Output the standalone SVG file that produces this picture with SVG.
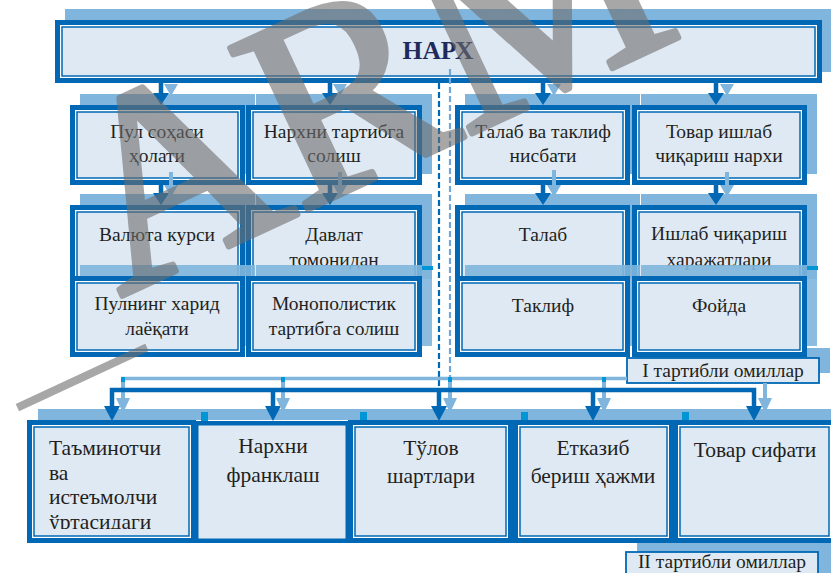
<svg xmlns="http://www.w3.org/2000/svg" width="831" height="573" viewBox="0 0 831 573">
<style>
.dk{fill:#0068b4}
.wh{fill:#ffffff}
.in{fill:#dfe9f4;stroke:#0068b4;stroke-width:1.5}
.sh{fill:#80b6dd}
.sh2{fill:#80b6dd;opacity:0.9}
.cy{fill:#0095d5}
.t{font-family:"Liberation Serif","Times New Roman",serif;font-size:19.5px;fill:#231f20;text-anchor:middle}
.tb{font-family:"Liberation Serif","Times New Roman",serif;font-size:21.5px;fill:#231f20;text-anchor:middle}
.tl{font-family:"Liberation Serif","Times New Roman",serif;font-size:21.5px;fill:#231f20}
.dkl{stroke:#0068b4;stroke-width:4.5;fill:none}
.ltl{stroke:#80b6dd;stroke-width:4;fill:none}
.dka{fill:#0068b4}
.lta{fill:#80b6dd}
</style>
<defs>
<clipPath id="c1"><rect x="34" y="427" width="155" height="102"/></clipPath>
</defs>
<rect width="831" height="573" fill="#ffffff"/>

<!-- top node -->
<g id="n-narx">
<rect class="sh" x="65" y="9" width="770" height="63"/>
<rect class="dk" x="55" y="20" width="767" height="63"/>
<rect class="wh" x="60" y="25" width="757" height="53"/>
<rect class="in" x="62" y="27" width="753" height="49"/>
<text x="438" y="59" font-family="'Liberation Serif','Times New Roman',serif" font-size="25.5" font-weight="bold" fill="#1f2a5c" text-anchor="middle">НАРХ</text>
</g>

<!-- row 2 shadows -->
<rect class="sh" x="80" y="94" width="175" height="80"/>
<rect class="sh" x="256" y="94" width="176" height="80"/>
<rect class="sh" x="465" y="94" width="175" height="80"/>
<rect class="sh" x="641" y="94" width="176" height="80"/>
<!-- row 3 shadows -->
<rect class="sh" x="80" y="194" width="175" height="85"/>
<rect class="sh" x="256" y="194" width="176" height="85"/>
<rect class="sh" x="465" y="194" width="175" height="85"/>
<rect class="sh" x="641" y="194" width="176" height="85"/>

<g id="connectors">
<path class="dkl" d="M161 83V95M330 83V95M543 83V95M716 83V95"/>
<path class="dka" d="M153 93H169L161 105ZM322 93H338L330 105ZM535 93H551L543 105ZM708 93H724L716 105Z"/>
<path class="lta" d="M164 84H178L171 96ZM333 84H347L340 96ZM547 84H561L554 96ZM720 84H734L727 96Z"/>
</g>

<!-- row 2 nodes -->
<g id="n-pul">
<rect class="dk" x="70" y="105" width="175" height="80"/>
<rect class="wh" x="75" y="110" width="165" height="70"/>
<rect class="in" x="77" y="112" width="161" height="66"/>
<text class="t" x="157" y="138">Пул соҳаси</text>
<text class="t" x="157" y="162">ҳолати</text>
</g>
<g id="n-tartib">
<rect class="dk" x="246" y="105" width="176" height="80"/>
<rect class="wh" x="251" y="110" width="166" height="70"/>
<rect class="in" x="253" y="112" width="162" height="66"/>
<text class="t" x="334" y="138">Нархни тартибга</text>
<text class="t" x="334" y="162">солиш</text>
</g>
<g id="n-talabtaklif">
<rect class="dk" x="455" y="105" width="175" height="80"/>
<rect class="wh" x="460" y="110" width="165" height="70"/>
<rect class="in" x="462" y="112" width="161" height="66"/>
<text class="t" x="543" y="138">Талаб ва таклиф</text>
<text class="t" x="543" y="162">нисбати</text>
</g>
<g id="n-tovar">
<rect class="dk" x="632" y="105" width="175" height="80"/>
<rect class="wh" x="637" y="110" width="165" height="70"/>
<rect class="in" x="639" y="112" width="161" height="66"/>
<text class="t" x="719" y="138">Товар ишлаб</text>
<text class="t" x="719" y="162">чиқариш нархи</text>
</g>

<g id="connectors-2">
<path class="dkl" d="M161 185V195M330 185V195M543 185V195M716 185V195"/>
<path class="dka" d="M153 193H169L161 205ZM322 193H338L330 205ZM535 193H551L543 205ZM708 193H724L716 205Z"/>
<path class="ltl" d="M171 172V186M340 172V186M554 170V186M727 172V186"/>
<path class="lta" d="M164 185H178L171 197ZM333 185H347L340 197ZM547 185H561L554 197ZM720 185H734L727 197Z"/>
</g>

<!-- row 3 nodes -->
<g id="n-valyuta">
<rect class="dk" x="70" y="205" width="175" height="85"/>
<rect class="wh" x="75" y="210" width="165" height="75"/>
<rect class="in" x="77" y="212" width="161" height="71"/>
<text class="t" x="157" y="241">Валюта курси</text>
</g>
<g id="n-davlat">
<rect class="dk" x="246" y="205" width="176" height="85"/>
<rect class="wh" x="251" y="210" width="166" height="75"/>
<rect class="in" x="253" y="212" width="162" height="71"/>
<text class="t" x="334" y="241">Давлат</text>
<text class="t" x="334" y="266">томонидан</text>
</g>
<g id="n-talab">
<rect class="dk" x="455" y="205" width="175" height="85"/>
<rect class="wh" x="460" y="210" width="165" height="75"/>
<rect class="in" x="462" y="212" width="161" height="71"/>
<text class="t" x="543" y="241">Талаб</text>
</g>
<g id="n-ishlab">
<rect class="dk" x="632" y="205" width="175" height="85"/>
<rect class="wh" x="637" y="210" width="165" height="75"/>
<rect class="in" x="639" y="212" width="161" height="71"/>
<text class="t" x="719" y="240">Ишлаб чиқариш</text>
<text class="t" x="719" y="266">харажатлари</text>
</g>

<!-- row 4 shadows -->
<rect class="sh2" x="80" y="265" width="175" height="81"/>
<rect class="sh2" x="256" y="265" width="176" height="81"/>
<rect class="sh2" x="465" y="265" width="175" height="81"/>
<rect class="sh2" x="641" y="265" width="176" height="81"/>
<rect class="cy" x="422" y="266" width="11" height="4"/>
<rect class="cy" x="807" y="266" width="11" height="4"/>

<!-- label I shadow -->
<rect class="sh" x="638" y="348" width="192" height="25"/>

<!-- row 4 nodes -->
<g id="n-xarid">
<rect class="dk" x="70" y="276" width="175" height="81"/>
<rect class="wh" x="75" y="281" width="165" height="71"/>
<rect class="in" x="77" y="283" width="161" height="67"/>
<text class="t" x="157" y="310">Пулнинг харид</text>
<text class="t" x="157" y="335">лаёқати</text>
</g>
<g id="n-monopol">
<rect class="dk" x="246" y="276" width="176" height="81"/>
<rect class="wh" x="251" y="281" width="166" height="71"/>
<rect class="in" x="253" y="283" width="162" height="67"/>
<text class="t" x="334" y="310">Монополистик</text>
<text class="t" x="334" y="335">тартибга солиш</text>
</g>
<g id="n-taklif">
<rect class="dk" x="455" y="276" width="175" height="81"/>
<rect class="wh" x="460" y="281" width="165" height="71"/>
<rect class="in" x="462" y="283" width="161" height="67"/>
<text class="t" x="543" y="312">Таклиф</text>
</g>
<g id="n-foyda">
<rect class="dk" x="632" y="276" width="175" height="81"/>
<rect class="wh" x="637" y="281" width="165" height="71"/>
<rect class="in" x="639" y="283" width="161" height="67"/>
<text class="t" x="719" y="312">Фойда</text>
</g>

<g id="label-1">
<rect x="627" y="358" width="192" height="25" fill="#dfe9f4" stroke="#0068b4" stroke-width="1.8"/>
<text class="t" x="723" y="377">I тартибли омиллар</text>
</g>

<!-- bottom shadows -->
<rect class="sh" x="637" y="541" width="194" height="32"/>
<rect class="sh" x="38" y="409" width="793" height="11"/>
<rect class="cy" x="201" y="412" width="7" height="9"/>
<rect class="cy" x="360" y="412" width="7" height="9"/>
<rect class="cy" x="521" y="412" width="7" height="9"/>
<rect class="cy" x="682" y="412" width="7" height="9"/>

<g id="connectors-3">
<path d="M439 83V390" stroke="#0068b4" stroke-width="2.2" stroke-dasharray="6 3" fill="none"/>
<path d="M450 69V378" stroke="#6fa8d8" stroke-width="2.2" stroke-dasharray="6 3" fill="none"/>
<path d="M121 378.5H627" stroke="#80b6dd" stroke-width="3.5" fill="none"/>
<path class="ltl" d="M123 379V400M283 379V400M450 379V400M604 379V400M765 383V400"/>
<path class="dkl" d="M112 408V390H754V408M273 390V408M439 388V408M593 390V408"/>
<path class="dka" d="M104 406H120L112 421ZM265 406H281L273 421ZM431 406H447L439 421ZM585 406H601L593 421ZM746 406H762L754 421Z"/>
<path class="lta" d="M116 398H130L123 413ZM276 398H290L283 413ZM443 398H457L450 413ZM597 398H611L604 413ZM758 398H772L765 413Z"/>
<rect class="cy" x="121" y="377" width="4" height="5"/>
<rect class="cy" x="281" y="377" width="4" height="5"/>
<rect class="cy" x="448" y="377" width="4" height="5"/>
<rect class="cy" x="602" y="377" width="4" height="5"/>
</g>

<!-- bottom nodes -->
<g id="n-taminot">
<rect class="dk" x="27" y="420" width="169" height="123"/>
<rect class="wh" x="32" y="425" width="159" height="113"/>
<rect class="in" x="34" y="427" width="155" height="109"/>
<g clip-path="url(#c1)">
<text class="tl" x="49" y="455">Таъминотчи</text>
<text class="tl" x="49" y="480">ва</text>
<text class="tl" x="49" y="504">истеъмолчи</text>
<text class="tl" x="49" y="529">ўртасидаги</text>
</g>
</g>
<g id="n-frank">
<rect class="dk" x="194" y="421" width="156" height="122"/>
<rect x="198.5" y="425.5" width="147" height="113" fill="#dfe9f4"/>
<text class="tb" x="273" y="453">Нархни</text>
<text class="tb" x="273" y="482">франклаш</text>
</g>
<g id="n-tulov">
<rect class="dk" x="348" y="420" width="165" height="123"/>
<rect class="wh" x="353" y="425" width="155" height="113"/>
<rect class="in" x="355" y="427" width="151" height="109"/>
<text class="tb" x="431" y="455">Тўлов</text>
<text class="tb" x="431" y="483">шартлари</text>
</g>
<g id="n-etkazib">
<rect class="dk" x="513" y="420" width="161" height="123"/>
<rect class="wh" x="518" y="425" width="151" height="113"/>
<rect class="in" x="520" y="427" width="147" height="109"/>
<text class="tb" x="593" y="455">Етказиб</text>
<text class="tb" x="593" y="483">бериш ҳажми</text>
</g>
<g id="n-sifat">
<rect class="dk" x="673" y="420" width="163" height="123"/>
<rect class="wh" x="678" y="425" width="153" height="113"/>
<rect class="in" x="680" y="427" width="149" height="109"/>
<text class="tb" x="755" y="457">Товар сифати</text>
</g>

<g id="label-2">
<rect x="626" y="552" width="192" height="26" fill="#dfe9f4" stroke="#0068b4" stroke-width="1.8"/>
<text class="t" x="722" y="568">II тартибли омиллар</text>
</g>

<g id="watermark" opacity="0.6" transform="matrix(0.906 -0.421 0.425 0.905 120 297)">
<text x="0" y="0" font-family="'Liberation Serif','Times New Roman',serif" font-size="274" fill="#6e6e6e" stroke="#6e6e6e" stroke-width="6" stroke-linejoin="round">ARM</text>
<rect x="-140" y="53" width="143" height="8" fill="#6e6e6e"/>
</g>
</svg>
